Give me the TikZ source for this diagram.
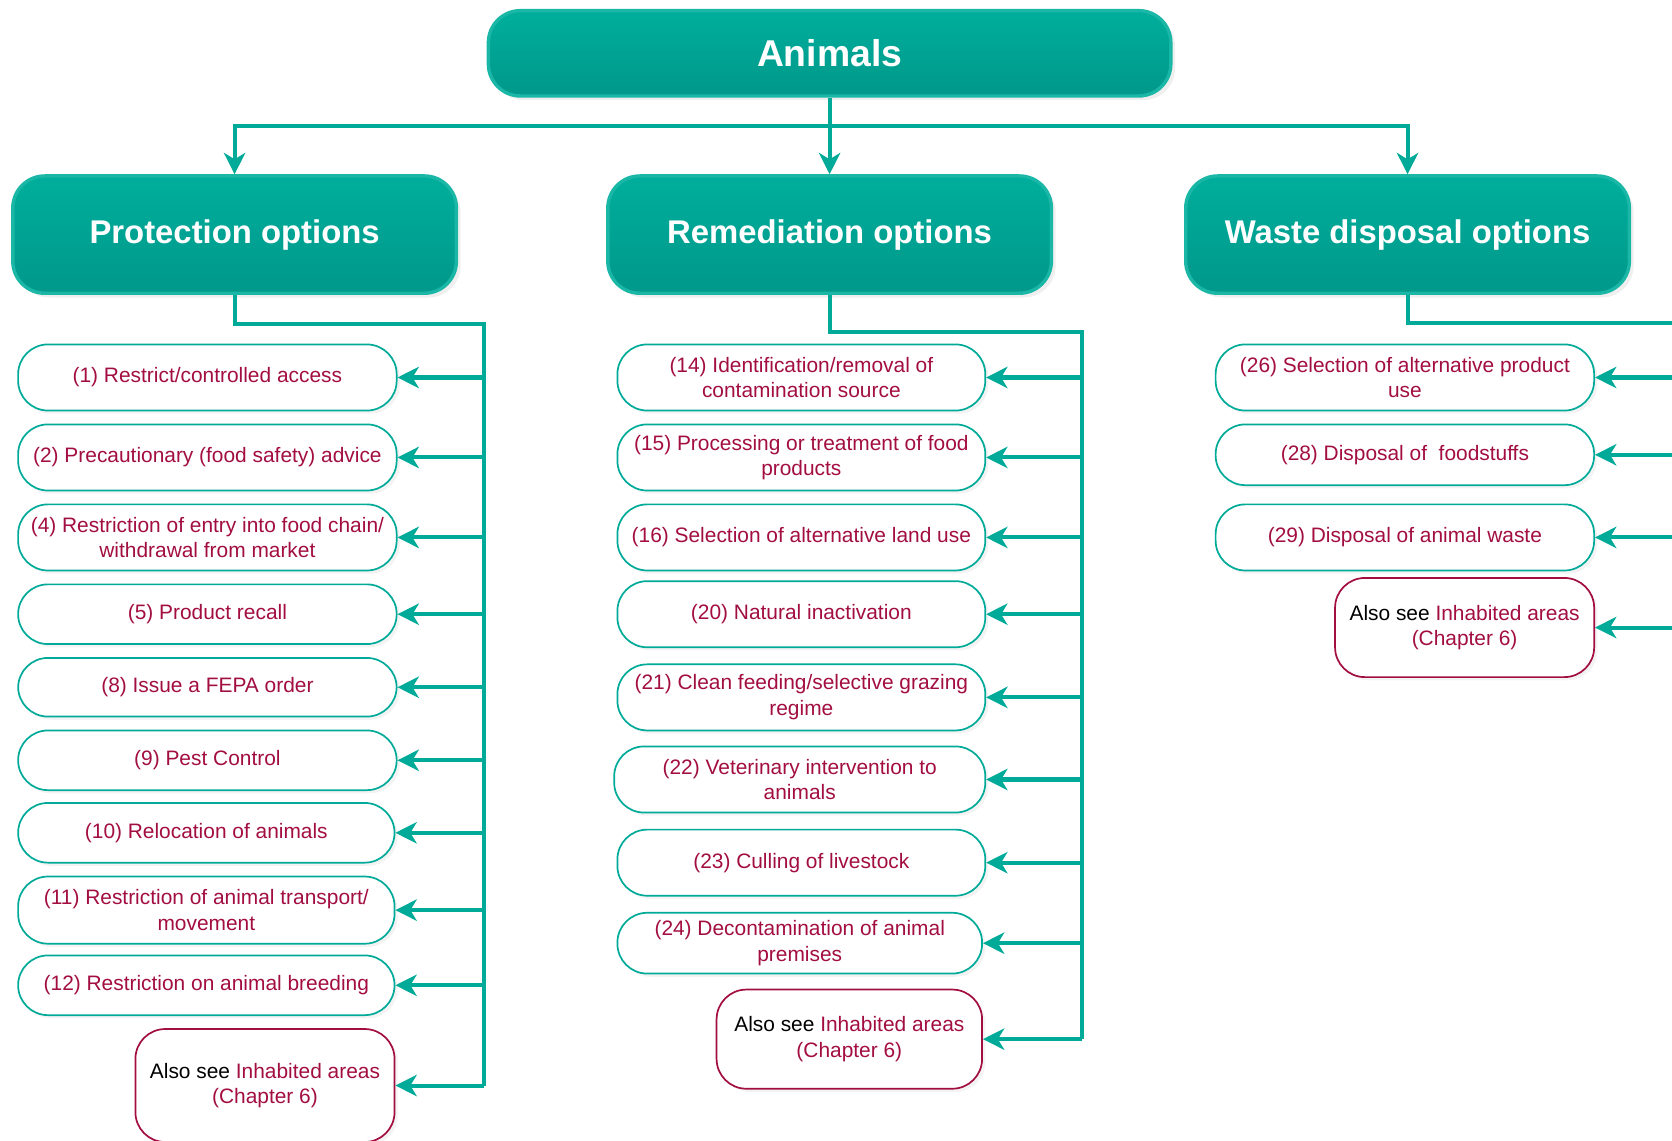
\documentclass[tikz,border=0pt]{standalone}
\usepackage{fontspec}
\setmainfont{Liberation Sans}
\usetikzlibrary{arrows.meta,shadows}
\definecolor{tealL}{RGB}{0,170,152}
\definecolor{tealB}{RGB}{26,182,166}
\definecolor{tealT}{RGB}{0,174,156}
\definecolor{tealD}{RGB}{0,152,138}
\definecolor{crim}{RGB}{163,14,66}
\begin{document}
\begin{tikzpicture}[x=0.5pt,y=-0.5pt,
  hdr/.style={rounded corners=15pt, draw=tealB, line width=1.6pt,
    top color=tealT, bottom color=tealD, text=white, inner sep=0pt,
    font=\fontsize{15.4}{18}\selectfont\bfseries,
    drop shadow={shadow xshift=2pt, shadow yshift=-2pt, fill=black!12}},
  item/.style={rounded corners=14pt, draw=tealL, line width=0.8pt, fill=white,
    text=crim, align=center, inner sep=0pt, font=\fontsize{9.8}{12}\selectfont,
    drop shadow={shadow xshift=1.5pt, shadow yshift=-1.5pt, fill=black!9}},
  see/.style={item, draw=crim},
  colL/.style={minimum width=177.5pt},
  colM/.style={minimum width=172.5pt},
  bus/.style={draw=tealL, line width=1.9pt},
  arr/.style={bus, -{Stealth[length=10pt,width=10pt,inset=3pt]}}
]
\useasboundingbox (0,0) rectangle (1568,1070);
\clip (0,0) rectangle (1568,1070);

% headers
\node[hdr, minimum width=320pt, minimum height=40pt, font=\fontsize{17.5}{20}\selectfont\bfseries] (anim) at (778,50) {Animals};
\node[hdr, minimum width=208pt, minimum height=55pt] (prot) at (220,220) {Protection options};
\node[hdr, minimum width=208pt, minimum height=55pt] (rem) at (778,220) {Remediation options};
\node[hdr, minimum width=208pt, minimum height=55pt] (waste) at (1320,220) {Waste disposal options};

\coordinate (tb) at (778,118);
\draw[bus] (anim.south) -- (tb);
\draw[arr] (tb) -| (prot.north);
\draw[arr] (tb) -- (rem.north);
\draw[arr] (tb) -| (waste.north);

% protection items
\node[item, colL, minimum height=31pt] (p1) at (194.5,354) {(1) Restrict/controlled access};
\node[item, colL, minimum height=31pt] (p2) at (194.5,429) {(2) Precautionary (food safety) advice};
\node[item, colL, minimum height=31pt] (p4) at (194.5,504) {(4) Restriction of entry into food chain/\\withdrawal from market};
\node[item, colL, minimum height=28pt] (p5) at (194.5,576) {(5) Product recall};
\node[item, colL, minimum height=27.5pt] (p8) at (194.5,644.5) {(8) Issue a FEPA order};
\node[item, colL, minimum height=28pt] (p9) at (194.5,713) {(9) Pest Control};
\node[item, minimum width=176.5pt, minimum height=28pt] (p10) at (193.5,781) {(10) Relocation of animals};
\node[item, minimum width=176.5pt, minimum height=31.5pt] (p11) at (193.5,853.5) {(11) Restriction of animal transport/\\movement};
\node[item, minimum width=176.5pt, minimum height=28pt] (p12) at (193.5,924) {(12) Restriction on animal breeding};
\node[see, minimum width=121.5pt, minimum height=53pt] (pA) at (248.5,1018) {{\color{black}Also see} Inhabited areas\\(Chapter 6)};

\coordinate (bp) at (454,304);
\draw[bus] (prot.south) |- (bp) -- (bp |- pA.east);
\foreach \n in {p1,p2,p4,p5,p8,p9,p10,p11,p12,pA}
  \draw[arr] (bp |- \n.east) -- (\n.east);

% remediation items
\node[item, colM, minimum height=31pt] (m14) at (751.5,354) {(14) Identification/removal of\\contamination source};
\node[item, colM, minimum height=31pt] (m15) at (751.5,429) {(15) Processing or treatment of food\\products};
\node[item, colM, minimum height=31pt] (m16) at (751.5,504) {(16) Selection of alternative land use};
\node[item, colM, minimum height=31pt] (m20) at (751.5,576) {(20) Natural inactivation};
\node[item, colM, minimum height=31pt] (m21) at (751.5,654) {(21) Clean feeding/selective grazing\\regime};
\node[item, minimum width=174pt, minimum height=31pt] (m22) at (750,731) {(22) Veterinary intervention to\\animals};
\node[item, colM, minimum height=31pt] (m23) at (751.5,809) {(23) Culling of livestock};
\node[item, minimum width=171pt, minimum height=28.5pt] (m24) at (750,884.5) {(24) Decontamination of animal\\premises};
\node[see, minimum width=124.5pt, minimum height=46.5pt] (mA) at (796.5,974.5) {{\color{black}Also see} Inhabited areas\\(Chapter 6)};

\coordinate (bm) at (1015,311);
\draw[bus] (rem.south) |- (bm) -- (bm |- mA.east);
\foreach \n in {m14,m15,m16,m20,m21,m22,m23,m24,mA}
  \draw[arr] (bm |- \n.east) -- (\n.east);

% waste items
\node[item, colL, minimum height=31pt] (w26) at (1317.5,354) {(26) Selection of alternative product\\use};
\node[item, colL, minimum height=28.5pt] (w28) at (1317.5,426.5) {(28) Disposal of~~foodstuffs};
\node[item, colL, minimum height=31pt] (w29) at (1317.5,504) {(29) Disposal of animal waste};
\node[see, minimum width=121.5pt, minimum height=46.5pt] (wA) at (1373.5,588.5) {{\color{black}Also see} Inhabited areas\\(Chapter 6)};

\coordinate (bw) at (1590,303);
\draw[bus] (waste.south) |- (bw);
\foreach \n in {w26,w28,w29,wA}
  \draw[arr] (bw |- \n.east) -- (\n.east);
\end{tikzpicture}
\end{document}
